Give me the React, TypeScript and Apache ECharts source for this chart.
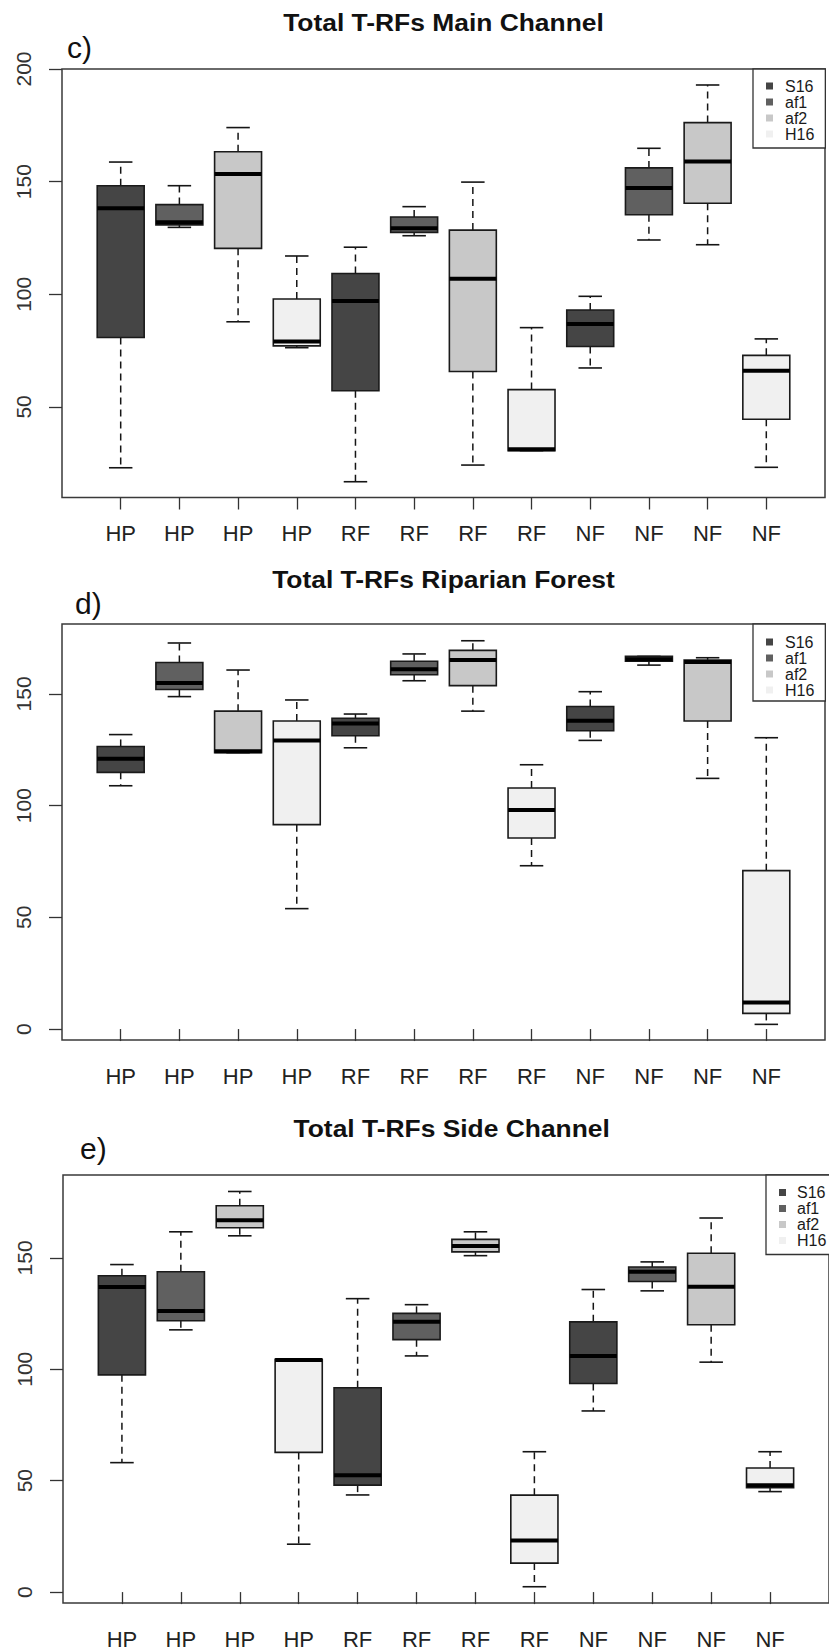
import React, { useEffect, useRef } from "react";
import * as echarts from "echarts";

// x-axis group labels, one per box position (1..12)
const GROUP_LABELS = ["HP", "HP", "HP", "HP", "RF", "RF", "RF", "RF", "NF", "NF", "NF", "NF"];
const TREATMENTS = ["S16", "af1", "af2", "H16"];
const FILLS = ["#454545", "#606060", "#c8c8c8", "#f0f0f0"];

// Five-number summaries [lower whisker, Q1, median, Q3, upper whisker] for HP, RF, NF
const MAIN_S16 = [[23, 80.8, 138.2, 148.2, 158.7], [16.8, 57.2, 97, 109.2, 120.9], [67.3, 76.8, 86.8, 93, 99.1]];
const MAIN_AF1 = [[129.7, 130.8, 132, 139.8, 148.2], [126, 127.5, 129.3, 134.3, 138.9], [124.1, 135.3, 147.2, 156.1, 164.8]];
const MAIN_AF2 = [[87.8, 120.4, 153.4, 163.3, 174], [24.2, 65.7, 106.9, 128.5, 149.8], [122, 140.4, 158.9, 176.2, 192.9]];
const MAIN_H16 = [[76.3, 77.1, 79, 97.9, 117], [30.6, 30.6, 31.2, 57.7, 85.2], [23.2, 44.5, 66.1, 72.9, 80.2]];

const RIP_S16 = [[108.9, 114.9, 121, 126.5, 131.8], [125.9, 131.3, 136.8, 139.1, 141], [129.2, 133.5, 138, 144.4, 151]];
const RIP_AF1 = [[148.8, 152, 154.9, 164.1, 172.8], [155.9, 158.6, 161, 164.6, 167.9], [162.9, 164.6, 165.5, 166.8, 166.8]];
const RIP_AF2 = [[123.7, 123.7, 124.3, 142.3, 160.7], [142.3, 153.7, 165.2, 169.5, 173.8], [112.2, 137.9, 164.3, 165.2, 166.2]];
const RIP_H16 = [[53.9, 91.5, 129.2, 137.9, 147.3], [73.1, 85.5, 98, 107.9, 118.3], [2.1, 7, 11.9, 70.9, 130.4]];

const SIDE_S16 = [[58.1, 97.5, 136.9, 142, 147], [43.6, 48, 52.4, 91.7, 131.7], [81.3, 93.6, 106, 121.3, 135.8]];
const SIDE_AF1 = [[117.7, 121.8, 126.2, 143.8, 161.7], [106, 113.3, 121.3, 125.1, 129], [135.2, 139.4, 143.8, 145.9, 148.2]];
const SIDE_AF2 = [[159.9, 163.5, 166.9, 173.4, 179.8], [151, 152.7, 155.3, 158.3, 161.7], [103.2, 120, 137, 152.1, 167.9]];
const SIDE_H16 = [[21.5, 62.7, 104.2, 104.5, 104.5], [2.4, 13, 23.1, 43.5, 63], [45.1, 46.9, 48, 55.7, 63]];

// y-axis tick values per panel
const TICKS_MAIN = [50, 100, 150, 200];
const TICKS_RIP = [0, 50, 100, 150];
const TICKS_SIDE = [0, 50, 100, 150];

const X_TICKS = GROUP_LABELS.map((_, i) => i + 1);
const BOX_WIDTH = 0.8;
const FONT = '"Liberation Sans", Arial, Helvetica, sans-serif';

const PANELS = [
  {
    title: "Total T-RFs Main Channel",
    letter: "c)",
    series: [MAIN_S16, MAIN_AF1, MAIN_AF2, MAIN_H16],
    yMin: 9.8,
    yMax: 200,
    yTicks: TICKS_MAIN,
    grid: { left: 62, top: 69, width: 763, height: 428.5 },
    titlePos: [443.5, 22.5],
    letterPos: [67, 47.5],
    legend: { left: 753, top: 69, textPad: 7, padding: [9, 11, 6, 13] },
  },
  {
    title: "Total T-RFs Riparian Forest",
    letter: "d)",
    series: [RIP_S16, RIP_AF1, RIP_AF2, RIP_H16],
    yMin: -4.9,
    yMax: 181.3,
    yTicks: TICKS_RIP,
    grid: { left: 62, top: 624, width: 763, height: 416 },
    titlePos: [443.5, 579],
    letterPos: [75, 603],
    legend: { left: 753, top: 624, textPad: 7, padding: [10, 11, 3, 13] },
  },
  {
    title: "Total T-RFs Side Channel",
    letter: "e)",
    series: [SIDE_S16, SIDE_AF1, SIDE_AF2, SIDE_H16],
    yMin: -4.9,
    yMax: 187.2,
    yTicks: TICKS_SIDE,
    grid: { left: 63, top: 1175, width: 777.4, height: 428.5 },
    titlePos: [451.7, 1128],
    letterPos: [80, 1148],
    legend: { left: 766, top: 1175, textPad: 6, padding: [9.5, 11, 6, 13] },
  },
];

function renderBox(params: any, api: any) {
  const x = api.value(0);
  const lo = api.coord([x, api.value(1)]);
  const cx = lo[0];
  const yLo = lo[1];
  const yQ1 = api.coord([x, api.value(2)])[1];
  const yMed = api.coord([x, api.value(3)])[1];
  const yQ3 = api.coord([x, api.value(4)])[1];
  const yHi = api.coord([x, api.value(5)])[1];
  const half = api.size([BOX_WIDTH, 0])[0] / 2;
  const cap = half / 2;
  const fill = api.visual("color");
  const dashed = { stroke: "#151515", lineWidth: 1.5, lineDash: [7, 5] };
  const solid = { stroke: "#151515", lineWidth: 1.6 };
  return {
    type: "group",
    children: [
      { type: "line", shape: { x1: cx, y1: yQ3, x2: cx, y2: yHi }, style: dashed },
      { type: "line", shape: { x1: cx, y1: yQ1, x2: cx, y2: yLo }, style: dashed },
      { type: "line", shape: { x1: cx - cap, y1: yHi, x2: cx + cap, y2: yHi }, style: solid },
      { type: "line", shape: { x1: cx - cap, y1: yLo, x2: cx + cap, y2: yLo }, style: solid },
      {
        type: "rect",
        shape: { x: cx - half, y: yQ3, width: half * 2, height: yQ1 - yQ3 },
        style: { fill, stroke: "#1a1a1a", lineWidth: 1.6 },
      },
      { type: "line", shape: { x1: cx - half, y1: yMed, x2: cx + half, y2: yMed }, style: { stroke: "#000", lineWidth: 4 } },
    ],
  };
}

function buildOption() {
  const grid = PANELS.map((p) => ({
    ...p.grid,
    show: true,
    borderColor: "#3a3a3a",
    borderWidth: 1.5,
    backgroundColor: "transparent",
    containLabel: false,
  }));

  const xAxis = PANELS.map((p, i) => ({
    type: "value",
    gridIndex: i,
    min: 0,
    max: 13,
    splitLine: { show: false },
    axisLine: { show: false },
    axisTick: { show: true, length: 12, lineStyle: { color: "#333", width: 1.3 }, customValues: X_TICKS },
    axisLabel: {
      show: true,
      customValues: X_TICKS,
      formatter: (v: number) => GROUP_LABELS[Math.round(v) - 1] ?? "",
      fontFamily: FONT,
      fontSize: 22,
      color: "#222",
      margin: 25,
    },
  }));

  const yAxis = PANELS.map((p, i) => ({
    type: "value",
    gridIndex: i,
    min: p.yMin,
    max: p.yMax,
    splitLine: { show: false },
    axisLine: { show: false },
    axisTick: { show: true, length: 13, lineStyle: { color: "#333", width: 1.3 }, customValues: p.yTicks },
    axisLabel: {
      show: true,
      customValues: p.yTicks,
      rotate: 90,
      fontFamily: FONT,
      fontSize: 21,
      color: "#333",
      margin: 28,
    },
  }));

  const series: any[] = [];
  PANELS.forEach((p, pi) => {
    p.series.forEach((groups, ti) => {
      series.push({
        type: "custom",
        name: TREATMENTS[ti],
        xAxisIndex: pi,
        yAxisIndex: pi,
        itemStyle: { color: FILLS[ti] },
        dimensions: ["pos", "low", "q1", "median", "q3", "high"],
        encode: { x: 0, y: [1, 2, 3, 4, 5] },
        data: groups.map((five, gi) => [gi * 4 + ti + 1, ...five]),
        renderItem: renderBox,
        z: 2,
      });
    });
  });

  const legend = PANELS.map((p) => ({
    data: TREATMENTS,
    orient: "vertical",
    left: p.legend.left,
    top: p.legend.top,
    padding: p.legend.padding,
    itemGap: 0,
    itemWidth: 7,
    itemHeight: 7,
    icon: "rect",
    selectedMode: false,
    borderColor: "#333",
    borderWidth: 1.3,
    borderRadius: 0,
    backgroundColor: "#fff",
    itemStyle: { borderWidth: 0 },
    textStyle: {
      fontFamily: FONT,
      fontSize: 16,
      color: "#1a1a1a",
      padding: [0, 0, 0, p.legend.textPad],
    },
    z: 5,
  }));

  const graphic: any[] = [];
  PANELS.forEach((p) => {
    graphic.push({
      type: "text",
      x: p.titlePos[0],
      y: p.titlePos[1],
      scaleX: 1.1,
      style: {
        text: p.title,
        fontFamily: FONT,
        fontSize: 24,
        fontWeight: "bold",
        fill: "#111",
        align: "center",
        verticalAlign: "middle",
        textAlign: "center",
        textVerticalAlign: "middle",
      },
    });
    graphic.push({
      type: "text",
      x: p.letterPos[0],
      y: p.letterPos[1],
      style: {
        text: p.letter,
        fontFamily: FONT,
        fontSize: 30,
        fill: "#111",
        align: "left",
        verticalAlign: "middle",
        textAlign: "left",
        textVerticalAlign: "middle",
      },
    });
  });

  return {
    animation: false,
    backgroundColor: "#ffffff",
    textStyle: { fontFamily: FONT },
    grid,
    xAxis,
    yAxis,
    legend,
    series,
    graphic,
  };
}

export default function App() {
  const ref = useRef<HTMLDivElement>(null);

  useEffect(() => {
    if (!ref.current) return;
    const chart = echarts.init(ref.current, null, { renderer: "svg" });
    chart.setOption(buildOption() as any);
    return () => chart.dispose();
  }, []);

  return (
    <div
      ref={ref}
      style={{ position: "absolute", left: 0, top: 0, width: 829, height: 1650, background: "#fff" }}
    />
  );
}
